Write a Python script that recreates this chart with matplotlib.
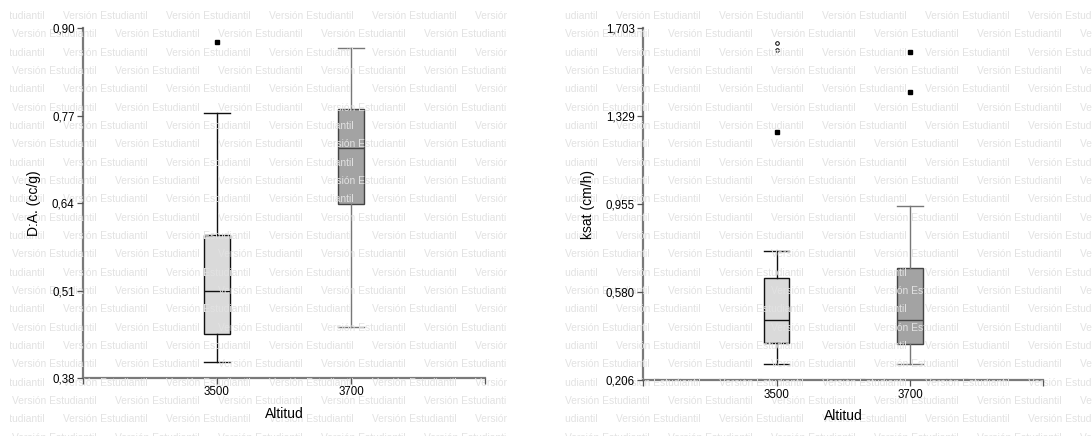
import matplotlib
matplotlib.use("Agg")
import matplotlib.pyplot as plt
from matplotlib.transforms import Bbox, TransformedBbox

plt.rcParams["font.family"] = ["Liberation Sans", "DejaVu Sans"]

groups = ["3500", "3700"]

# D.A. (cc/g): whisker low, Q1, median, Q3, whisker high
da_whislo = [0.404, 0.456]
da_q1 = [0.446, 0.639]
da_med = [0.509, 0.722]
da_q3 = [0.593, 0.780]
da_whishi = [0.773, 0.871]
da_outliers = [[0.879], []]
da_ticks = [0.38, 0.51, 0.64, 0.77, 0.90]
da_ticklabels = ["0,38", "0,51", "0,64", "0,77", "0,90"]

# ksat (cm/h)
ks_whislo = [0.276, 0.276]
ks_q1 = [0.363, 0.359]
ks_med = [0.462, 0.462]
ks_q3 = [0.640, 0.685]
ks_whishi = [0.757, 0.947]
ks_outliers = [[1.263], [1.601, 1.431]]
ks_extremes = [[1.642, 1.611], []]
ks_ticks = [0.206, 0.580, 0.955, 1.329, 1.703]
ks_ticklabels = ["0,206", "0,580", "0,955", "1,329", "1,703"]

W, H = 1092, 436
fig = plt.figure(figsize=(W / 100, H / 100), dpi=100)

ax1 = fig.add_axes([83 / W, 1 - 378 / H, 402 / W, 350 / H])
ax2 = fig.add_axes([643.3 / W, 1 - 380.3 / H, 400 / W, 352 / H])

box_colors = ["#dadada", "#a3a3a3"]
edge_colors = ["#111111", "#444444"]
whisker_colors = ["#111111", "#777777"]


def draw_boxes(ax, whislo, q1, med, q3, whishi, outliers):
    for i in range(len(groups)):
        stats = [{
            "whislo": whislo[i], "q1": q1[i], "med": med[i],
            "q3": q3[i], "whishi": whishi[i], "fliers": outliers[i],
        }]
        ax.bxp(
            stats, positions=[i + 1], widths=0.19, capwidths=0.19,
            patch_artist=True, zorder=1.5,
            boxprops=dict(facecolor=box_colors[i], edgecolor=edge_colors[i], linewidth=1.0),
            medianprops=dict(color=edge_colors[i], linewidth=1.0),
            whiskerprops=dict(color=whisker_colors[i], linewidth=1.0),
            capprops=dict(color=whisker_colors[i], linewidth=1.0),
            flierprops=dict(marker="s", markersize=3.2, markerfacecolor="black",
                            markeredgecolor="black", linestyle="none"),
        )


def style_axes(ax, ticks, ticklabels, ylabel):
    ax.set_facecolor("none")
    ax.set_xlim(0, 3)
    ax.set_ylim(ticks[0], ticks[-1])
    ax.set_xticks([0, 1, 2, 3])
    ax.set_xticklabels([""] + groups + [""])
    ax.set_yticks(ticks)
    ax.set_yticklabels(ticklabels)
    for side in ("top", "right"):
        ax.spines[side].set_visible(False)
    for side in ("left", "bottom"):
        ax.spines[side].set_color("#7a7a7a")
        ax.spines[side].set_linewidth(1.6)
        ax.spines[side].set_zorder(2.0)
    ax.set_axisbelow(False)
    ax.tick_params(axis="both", direction="out", length=4.5, width=0.9,
                   color="#555555", labelsize=8.3, pad=1.5, labelcolor="black")
    ax.set_xlabel("Altitud", fontsize=10, labelpad=6)
    ax.set_ylabel(ylabel, fontsize=10, labelpad=8)


def watermark(ax, x0, x1, first_x):
    # light tiled watermark across one panel region, clipped to it
    clip = TransformedBbox(Bbox([[x0 / W, 0], [x1 / W, 1]]), fig.transFigure)
    step = 103
    for k in range(25):
        y = 16 + 18.33 * k
        start = first_x + (51 if k % 2 == 0 else 0) - step
        x = start
        while x < x1:
            t = ax.text(x / W, 1 - y / H, "Versión Estudiantil", transform=fig.transFigure,
                        fontsize=7.4, color="#e2e2e2", ha="left", va="center",
                        clip_on=True, zorder=2.2)
            t.set_clip_box(clip)
            x += step


draw_boxes(ax1, da_whislo, da_q1, da_med, da_q3, da_whishi, da_outliers)
style_axes(ax1, da_ticks, da_ticklabels, "D:A. (cc/g)")

draw_boxes(ax2, ks_whislo, ks_q1, ks_med, ks_q3, ks_whishi, ks_outliers)
for i, vals in enumerate(ks_extremes):
    ax2.plot([i + 1] * len(vals), vals, linestyle="none", marker="o", markersize=2.6,
             markerfacecolor="white", markeredgecolor="black", markeredgewidth=0.7, zorder=1.6)
style_axes(ax2, ks_ticks, ks_ticklabels, "ksat (cm/h)")

watermark(ax1, 10, 507, 11.7)
watermark(ax2, 565, 1092, 565)

fig.savefig("out.png", dpi=100)
